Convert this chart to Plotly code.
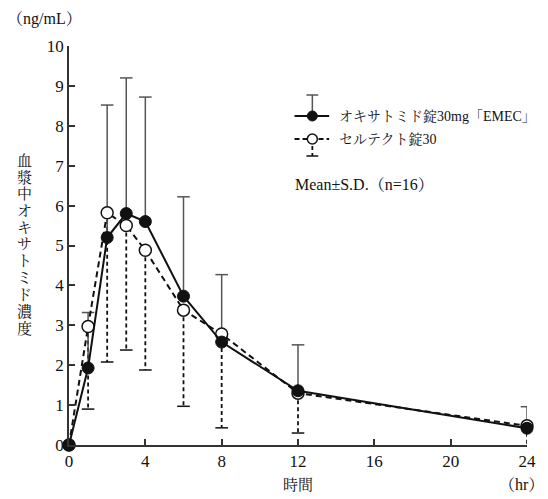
import plotly.graph_objects as go

time_hr = [0, 1, 2, 3, 4, 6, 8, 12, 24]
emec_mean = [0.0, 1.93, 5.20, 5.80, 5.60, 3.73, 2.58, 1.36, 0.42]
emec_sd = [0.0, 1.39, 3.32, 3.40, 3.12, 2.49, 1.69, 1.15, 0.54]
celtect_mean = [0.0, 2.97, 5.82, 5.50, 4.88, 3.38, 2.78, 1.30, 0.48]
celtect_sd = [0.0, 2.07, 3.74, 3.12, 3.00, 2.41, 2.35, 1.00, 0.58]

name_emec = "オキサトミド錠30mg「EMEC」"
name_celtect = "セルテクト錠30"
y_title = "血漿中オキサトミド濃度"
x_ticks = [0, 4, 8, 12, 16, 20, 24]
y_ticks = list(range(0, 11))

FONT = "Liberation Serif, Times New Roman, Noto Serif CJK JP, Noto Sans CJK JP, serif"
INK = "#111111"
GREY = "#555555"
CAP = 0.33

fig = go.Figure()

# dashed lower error bars (celtect)
ex, ey, cx, cy = [], [], [], []
for t, m, s in zip(time_hr, celtect_mean, celtect_sd):
    if s <= 0:
        continue
    ex += [t, t, None]
    ey += [m, m - s, None]
    cx += [t - CAP, t + CAP, None]
    cy += [m - s, m - s, None]
fig.add_trace(go.Scatter(x=ex, y=ey, mode="lines", line=dict(color=INK, width=1.8, dash="4px,3px"),
                         hoverinfo="skip", showlegend=False, cliponaxis=False))
fig.add_trace(go.Scatter(x=cx, y=cy, mode="lines", line=dict(color=INK, width=1.5),
                         hoverinfo="skip", showlegend=False, cliponaxis=False))

# solid upper error bars (emec)
ux, uy, ucx, ucy = [], [], [], []
for t, m, s in zip(time_hr, emec_mean, emec_sd):
    if s <= 0:
        continue
    ux += [t, t, None]
    uy += [m, m + s, None]
    ucx += [t - CAP, t + CAP, None]
    ucy += [m + s, m + s, None]
fig.add_trace(go.Scatter(x=ux, y=uy, mode="lines", line=dict(color=GREY, width=1.5),
                         hoverinfo="skip", showlegend=False, cliponaxis=False))
fig.add_trace(go.Scatter(x=ucx, y=ucy, mode="lines", line=dict(color=GREY, width=1.5),
                         hoverinfo="skip", showlegend=False, cliponaxis=False))

fig.add_trace(go.Scatter(x=time_hr, y=celtect_mean, mode="lines+markers", name=name_celtect,
                         line=dict(color=INK, width=2, dash="6px,4px"),
                         marker=dict(symbol="circle", size=12, color="white", line=dict(color=INK, width=1.5)),
                         showlegend=False, cliponaxis=False))
fig.add_trace(go.Scatter(x=time_hr, y=emec_mean, mode="lines+markers", name=name_emec,
                         line=dict(color=INK, width=2),
                         marker=dict(symbol="circle", size=12, color=INK, line=dict(color=INK, width=1)),
                         showlegend=False, cliponaxis=False))

# page has an 8px body margin: figure spans reference pixels 8..548 x 8..499
OFF = 8
W, H = 548 - OFF, 499 - OFF
L, R, T, B = 69 - OFF, 16, 46 - OFF, 54
pw, ph = W - L - R, H - T - B


def px(x):
    return (x - OFF - L) / pw


def py(y):
    return (H - B - (y - OFF)) / ph


shapes = []
# legend item 1 (solid)
shapes.append(dict(type="line", xref="paper", yref="paper", x0=px(297), x1=px(332), y0=py(116), y1=py(116),
                   line=dict(color=INK, width=2)))
shapes.append(dict(type="line", xref="paper", yref="paper", x0=px(315), x1=px(315), y0=py(116), y1=py(95),
                   line=dict(color=GREY, width=1.5)))
shapes.append(dict(type="line", xref="paper", yref="paper", x0=px(309), x1=px(321), y0=py(95), y1=py(95),
                   line=dict(color=GREY, width=1.5)))
shapes.append(dict(type="circle", xref="paper", yref="paper", xsizemode="pixel", ysizemode="pixel",
                   xanchor=px(315), yanchor=py(116), x0=-5, x1=5, y0=-5, y1=5,
                   fillcolor=INK, line=dict(color=INK, width=1)))
# legend item 2 (dashed)
shapes.append(dict(type="line", xref="paper", yref="paper", x0=px(297), x1=px(332), y0=py(139), y1=py(139),
                   line=dict(color=INK, width=2, dash="5px,3px")))
shapes.append(dict(type="line", xref="paper", yref="paper", x0=px(315), x1=px(315), y0=py(139), y1=py(156),
                   line=dict(color=INK, width=1.8, dash="4px,3px")))
shapes.append(dict(type="line", xref="paper", yref="paper", x0=px(309), x1=px(321), y0=py(156), y1=py(156),
                   line=dict(color=INK, width=1.5)))
shapes.append(dict(type="circle", xref="paper", yref="paper", xsizemode="pixel", ysizemode="pixel",
                   xanchor=px(315), yanchor=py(139), x0=-5, x1=5, y0=-5, y1=5,
                   fillcolor="white", line=dict(color=INK, width=1.5)))

annotations = [
    dict(text=name_emec, x=px(340), y=py(116), xref="paper", yref="paper", xanchor="left", yanchor="middle",
         showarrow=False, font=dict(size=14, color=INK, family=FONT)),
    dict(text=name_celtect, x=px(340), y=py(139), xref="paper", yref="paper", xanchor="left", yanchor="middle",
         showarrow=False, font=dict(size=14, color=INK, family=FONT)),
    dict(text="Mean±S.D.（n=16）", x=px(295), y=py(184), xref="paper", yref="paper", xanchor="left",
         yanchor="middle", showarrow=False, font=dict(size=16, color=INK, family=FONT)),
    dict(text="（ng/mL）", x=px(4), y=py(19), xref="paper", yref="paper", xanchor="left", yanchor="middle",
         showarrow=False, font=dict(size=16, color=INK, family=FONT)),
    dict(text="時間", x=px(300), y=py(485), xref="paper", yref="paper", xanchor="center", yanchor="middle",
         showarrow=False, font=dict(size=15, color=INK, family=FONT)),
    dict(text="（hr）", x=px(526), y=py(484), xref="paper", yref="paper", xanchor="center", yanchor="middle",
         showarrow=False, font=dict(size=16, color=INK, family=FONT)),
]
# vertical y-axis title, one character per row
pitch = 16.7
for i, ch in enumerate(y_title):
    annotations.append(dict(text=ch, x=px(24), y=py(161 + i * pitch), xref="paper", yref="paper",
                            xanchor="center", yanchor="middle", showarrow=False,
                            font=dict(size=15, color=INK, family=FONT)))

fig.update_layout(
    width=W, height=H,
    margin=dict(l=L, r=R, t=T, b=B),
    paper_bgcolor="white", plot_bgcolor="white",
    font=dict(family=FONT, size=17, color=INK),
    shapes=shapes, annotations=annotations,
    showlegend=False,
)
fig.update_xaxes(range=[0, 24], tickvals=x_ticks, ticks="inside", ticklen=6, tickwidth=1.5, tickcolor="#333",
                 showline=True, linecolor="#333", linewidth=1.5, showgrid=False, zeroline=False,
                 tickfont=dict(size=17, family=FONT, color=INK))
fig.update_yaxes(range=[0, 10], tickvals=y_ticks, ticks="inside", ticklen=6, tickwidth=1.5, tickcolor="#333",
                 showline=True, linecolor="#333", linewidth=1.5, showgrid=False, zeroline=False,
                 tickfont=dict(size=17, family=FONT, color=INK))

fig.write_html("out.html")
